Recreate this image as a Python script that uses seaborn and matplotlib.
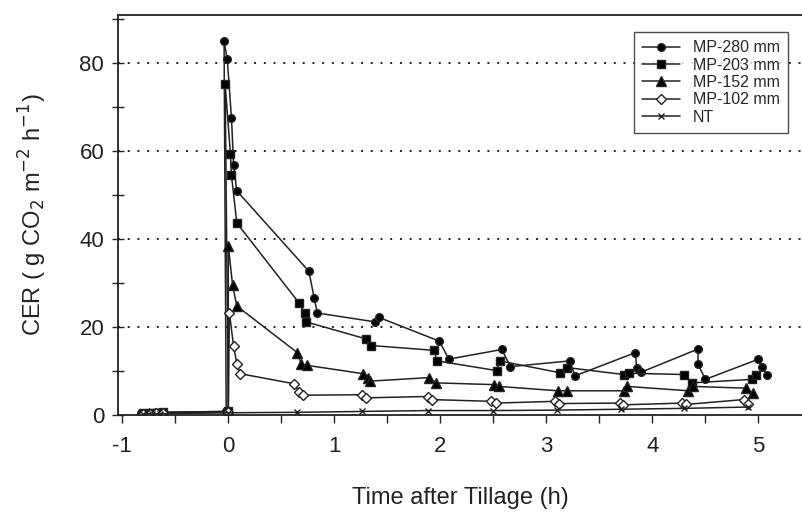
import matplotlib
matplotlib.use("Agg")
import matplotlib.pyplot as plt
import seaborn as sns
from matplotlib.ticker import MultipleLocator

# Time after tillage (h) and CER values
t_280 = [-0.82, -0.76, -0.70, -0.64, -0.02, -0.04, -0.01, 0.03, 0.05, 0.08,
         0.76, 0.81, 0.84, 1.38, 1.42, 1.99, 2.08, 2.58, 2.66, 3.22, 3.27,
         3.84, 3.85, 3.89, 4.43, 4.43, 4.50, 5.00, 5.03, 5.08]
cer_280 = [0.4, 0.5, 0.5, 0.6, 0.8, 85.0, 81.0, 67.5, 56.8, 51.0,
           32.7, 26.6, 23.2, 21.2, 22.2, 16.8, 12.7, 14.9, 11.0, 12.3, 8.9,
           14.2, 10.8, 9.7, 15.0, 11.5, 8.1, 12.7, 11.0, 9.2]

t_203 = [-0.80, -0.74, -0.68, -0.62, 0.0, -0.03, 0.02, 0.03, 0.08, 0.67,
         0.72, 0.73, 1.30, 1.35, 1.94, 1.97, 2.53, 2.56, 3.13, 3.19, 3.73,
         3.78, 4.30, 4.37, 4.94, 4.98]
cer_203 = [0.4, 0.5, 0.5, 0.6, 0.8, 75.4, 59.4, 54.5, 43.7, 25.4,
           23.1, 21.2, 17.3, 15.8, 14.7, 12.3, 10.1, 12.3, 9.6, 10.8, 9.2,
           9.5, 9.2, 7.3, 8.1, 9.0]

t_152 = [-0.81, -0.75, -0.69, -0.63, 0.0, 0.0, 0.04, 0.08, 0.65, 0.69,
         0.74, 1.27, 1.32, 1.34, 1.89, 1.96, 2.51, 2.55, 3.11, 3.19, 3.73,
         3.76, 4.34, 4.38, 4.88, 4.95]
cer_152 = [0.3, 0.4, 0.4, 0.5, 0.7, 38.5, 29.6, 24.8, 14.2, 11.5,
           11.3, 9.4, 8.3, 7.7, 8.5, 7.3, 6.9, 6.5, 5.5, 5.5, 5.5,
           6.5, 5.5, 6.5, 6.1, 5.0]

t_102 = [-0.80, -0.74, -0.68, -0.62, 0.0, 0.01, 0.05, 0.08, 0.11, 0.62,
         0.67, 0.70, 1.26, 1.30, 1.88, 1.92, 2.48, 2.52, 3.08, 3.12, 3.69,
         3.72, 4.28, 4.32, 4.86, 4.90]
cer_102 = [0.3, 0.3, 0.4, 0.4, 0.6, 23.3, 15.6, 11.7, 9.4, 7.1,
           5.2, 4.5, 4.6, 3.9, 4.2, 3.5, 3.1, 2.7, 3.1, 2.6, 2.7,
           2.3, 2.7, 2.4, 3.5, 2.5]

t_nt = [-0.80, -0.72, -0.64, 0.0, 0.65, 1.26, 1.88, 2.50, 3.10, 3.70, 4.30, 4.90]
cer_nt = [0.2, 0.3, 0.3, 0.5, 0.6, 0.8, 1.0, 1.0, 1.1, 1.3, 1.5, 1.8]

labels = ["MP-280 mm", "MP-203 mm", "MP-152 mm", "MP-102 mm", "NT"]

sns.set_theme(style="ticks")
plt.rcParams["font.family"] = ["Liberation Sans", "DejaVu Sans"]
plt.rcParams["axes.unicode_minus"] = False

fig = plt.figure(figsize=(8.03, 5.2), dpi=100)
ax = fig.add_axes([0.147, 0.202, 0.853, 0.769])

series = [
    (t_280, cer_280, "o", 5.5, "black"),
    (t_203, cer_203, "s", 6, "black"),
    (t_152, cer_152, "^", 6.5, "black"),
    (t_102, cer_102, "D", 5, "white"),
    (t_nt, cer_nt, "x", 5, "black"),
]
for (t, v, mk, ms, fc), lab in zip(series, labels):
    sns.lineplot(x=t, y=v, sort=False, estimator=None, ax=ax, color="#222222",
                 linewidth=1.1, marker=mk, markersize=ms, markerfacecolor=fc,
                 markeredgecolor="#222222", markeredgewidth=1.0, label=lab)

ax.set_xlim(-1.04, 5.42)
ax.set_ylim(0, 91)
ax.xaxis.set_major_locator(MultipleLocator(1))
ax.xaxis.set_minor_locator(MultipleLocator(0.5))
ax.yaxis.set_major_locator(MultipleLocator(20))
ax.yaxis.set_minor_locator(MultipleLocator(10))
ax.tick_params(axis="x", which="both", direction="out", length=6, width=1,
               labelsize=16, pad=9, colors="#222222")
ax.tick_params(axis="y", which="both", direction="inout", length=8, width=1,
               labelsize=16, pad=6, colors="#222222")

for yv in [20, 40, 60, 80]:
    ax.axhline(yv, color="#222222", linestyle=(0, (1, 4)), linewidth=1.4, zorder=0)

for side in ["left", "bottom", "top"]:
    ax.spines[side].set_color("#222222")
    ax.spines[side].set_linewidth(1.3)
ax.spines["right"].set_visible(False)

ax.set_xlabel("Time after Tillage (h)", fontsize=17, labelpad=22, color="#222222")
ax.set_ylabel("CER ( g CO$_2$ m$^{-2}$ h$^{-1}$)", fontsize=17, labelpad=22,
              color="#222222")

leg = ax.legend(loc="upper right", bbox_to_anchor=(0.99, 0.977), fontsize=11.5,
                frameon=True, fancybox=False, edgecolor="#222222",
                labelspacing=0.15, handlelength=2.4, borderpad=0.5)
leg.get_frame().set_linewidth(1.0)

plt.savefig("out.png", dpi=100)
